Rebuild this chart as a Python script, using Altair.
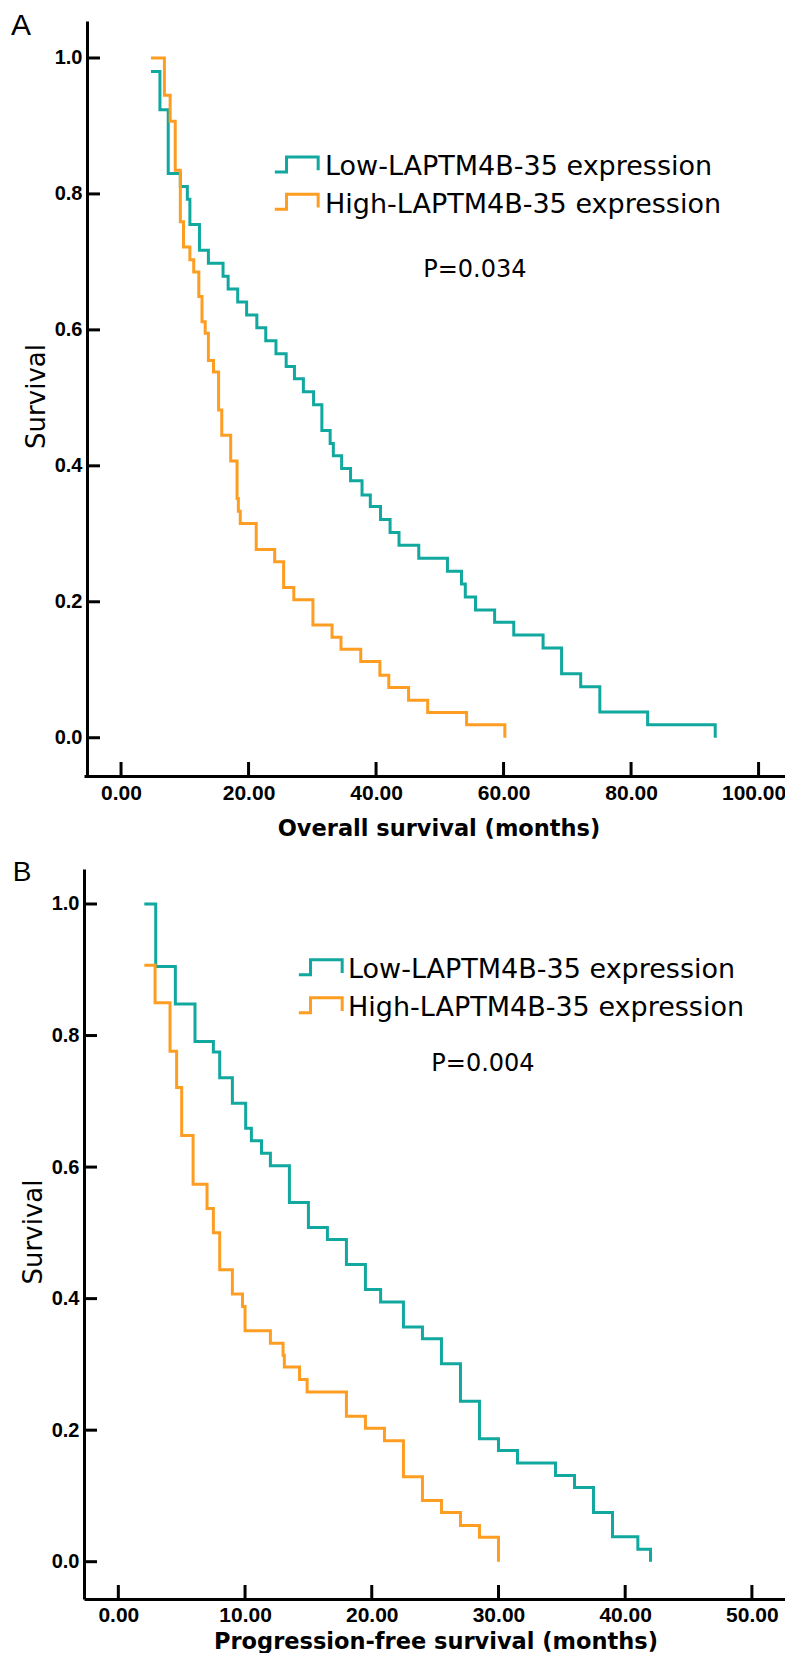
import altair as alt
import pandas as pd

GROUPS = ["Low-LAPTM4B-35 expression", "High-LAPTM4B-35 expression"]
COLORS = ["#10a89f", "#fd9d22"]

# Panel A: overall survival (months)
A_LOW_T = [4.7, 6.1, 7.4, 9.3, 10.4, 10.8, 12.3, 13.7, 16.0, 16.8, 18.3, 19.7, 21.3, 22.7,
           24.3, 25.9, 27.2, 28.6, 30.2, 31.5, 32.8, 33.3, 34.6, 36.0, 37.8, 39.1, 40.7,
           42.2, 43.6, 46.7, 51.2, 53.4, 54.0, 55.6, 58.6, 61.6, 66.2, 69.1, 72.1, 75.1,
           82.6, 93.2]
A_LOW_S = [0.980, 0.924, 0.830, 0.811, 0.792, 0.755, 0.717, 0.698, 0.679, 0.660, 0.641,
           0.622, 0.603, 0.584, 0.565, 0.546, 0.528, 0.509, 0.490, 0.452, 0.433, 0.415,
           0.396, 0.378, 0.357, 0.340, 0.321, 0.302, 0.283, 0.264, 0.245, 0.226, 0.207,
           0.188, 0.170, 0.151, 0.132, 0.094, 0.075, 0.038, 0.019, 0.0]
A_HIGH_T = [4.7, 6.8, 7.7, 8.5, 9.3, 9.8, 10.8, 11.4, 12.2, 12.7, 13.2, 13.7, 14.5, 15.3,
            15.8, 17.2, 18.2, 18.4, 18.7, 21.2, 24.1, 25.5, 27.1, 30.1, 33.1, 34.5, 37.6,
            40.6, 42.0, 45.1, 48.1, 54.2, 60.2]
A_HIGH_S = [1.0, 0.945, 0.907, 0.835, 0.759, 0.722, 0.703, 0.685, 0.649, 0.612, 0.595,
            0.555, 0.538, 0.482, 0.445, 0.407, 0.352, 0.333, 0.315, 0.277, 0.259, 0.221,
            0.203, 0.166, 0.148, 0.130, 0.112, 0.092, 0.074, 0.055, 0.037, 0.019, 0.0]

# Panel B: progression-free survival (months)
B_LOW_T = [2.05, 2.95, 4.5, 6.05, 7.5, 8.0, 9.0, 10.05, 10.5, 11.3, 12.0, 13.5, 15.0, 16.5,
           18.0, 19.5, 20.7, 22.5, 24.0, 25.5, 27.0, 28.5, 30.0, 31.5, 34.5, 36.0, 37.5,
           39.0, 41.0, 42.0]
B_LOW_S = [1.0, 0.905, 0.848, 0.791, 0.775, 0.736, 0.697, 0.659, 0.640, 0.621, 0.602,
           0.546, 0.508, 0.490, 0.452, 0.414, 0.395, 0.357, 0.339, 0.301, 0.244, 0.187,
           0.169, 0.150, 0.131, 0.113, 0.075, 0.038, 0.019, 0.0]
B_HIGH_T = [2.05, 2.9, 4.08, 4.6, 5.0, 5.9, 7.0, 7.5, 8.0, 9.0, 9.8, 10.0, 12.0, 13.0, 13.1,
            14.3, 14.9, 18.0, 19.5, 21.0, 22.5, 24.0, 25.5, 27.0, 28.5, 30.0]
B_HIGH_S = [0.907, 0.850, 0.776, 0.721, 0.648, 0.574, 0.537, 0.500, 0.444, 0.407, 0.388,
            0.351, 0.332, 0.314, 0.296, 0.277, 0.258, 0.221, 0.203, 0.184, 0.129, 0.093,
            0.075, 0.055, 0.037, 0.0]

A_XTICKS = [0, 20, 40, 60, 80, 100]
B_XTICKS = [0, 10, 20, 30, 40, 50]
YTICKS = [0.0, 0.2, 0.4, 0.6, 0.8, 1.0]

A_PVALUE = "P=0.034"
B_PVALUE = "P=0.004"
A_P_POS = (47.4, 0.678)
B_P_POS = (24.7, 0.7465)

SYMBOL = "M-2.89,0.63L-1.33,0.63L-1.33,-1.37L2.89,-1.37L2.89,0.4"


def km_frame(low_t, low_s, high_t, high_s):
    rows = []
    for t, s in zip(low_t, low_s):
        rows.append({"t": t, "s": s, "group": GROUPS[0]})
    for t, s in zip(high_t, high_s):
        rows.append({"t": t, "s": s, "group": GROUPS[1]})
    return pd.DataFrame(rows)


def panel(letter, df, xdom, ydom, xticks, xtitle, w, h, yoff, ptext, ppos,
          legx, legy, laboff, rowpad, lx, ly, lsize, lpad_x, tpad_x, tpad_y,
          last_shift, ytitle_y):
    xs = alt.Scale(domain=xdom, nice=False, zero=False)
    ys = alt.Scale(domain=ydom, nice=False, zero=False)
    xaxis = alt.Axis(values=xticks, format=".2f", title=xtitle,
                     titleFont="DejaVu Sans", titleFontSize=22.5,
                     titleFontWeight="bold", titlePadding=tpad_x,
                     labelPadding=lpad_x, labelFontSize=21,
                     labelFont="Liberation Sans", labelFontWeight="bold",
                     labelColor="black", titleColor="black",
                     labelOffset={"condition": {"test": f"datum.value == {xticks[-1]}",
                                                "value": last_shift}, "value": 0},
                     domainColor="black", domainWidth=3, ticks=False, grid=False)
    yaxis = alt.Axis(values=YTICKS, format=".1f", title="Survival",
                     titleFont="DejaVu Sans", titleFontSize=26,
                     titleFontWeight="normal", titlePadding=tpad_y,
                     titleY=ytitle_y,
                     labelPadding=5, labelFontSize=20,
                     labelFont="Liberation Sans", labelFontWeight="bold",
                     labelColor="black", titleColor="black",
                     domainColor="black", domainWidth=3, ticks=False, grid=False,
                     offset=yoff)
    X = alt.X("t:Q", scale=xs, axis=xaxis)
    Y = alt.Y("s:Q", scale=ys, axis=yaxis)
    curves = alt.Chart(df).mark_line(interpolate="step-after", strokeWidth=3).encode(
        x=X, y=Y,
        color=alt.Color("group:N", scale=alt.Scale(domain=GROUPS, range=COLORS),
                        legend=alt.Legend(orient="none", legendX=legx, legendY=legy,
                                          title=None, symbolType=SYMBOL, symbolSize=225,
                                          symbolStrokeWidth=3,
                                          symbolFillColor="transparent",
                                          labelFont="DejaVu Sans", labelFontSize=27,
                                          labelColor="black", labelOffset=laboff,
                                          rowPadding=rowpad, labelLimit=1000,
                                          padding=0)),
    )
    xt = alt.Chart(pd.DataFrame({"t": xticks})).mark_rule(
        color="black", strokeWidth=3).encode(
        x=X, y=alt.value(h), y2=alt.value(h - 14))
    yt = alt.Chart(pd.DataFrame({"s": YTICKS})).mark_rule(
        color="black", strokeWidth=3).encode(
        y=Y, x=alt.value(-yoff), x2=alt.value(-yoff + 13))
    ptxt = alt.Chart(pd.DataFrame({"t": [ppos[0]], "s": [ppos[1]], "label": [ptext]})).mark_text(
        align="left", baseline="alphabetic", font="DejaVu Sans", fontSize=24,
        color="black").encode(x=X, y=Y, text="label:N")
    lt = alt.Chart(pd.DataFrame({"label": [letter]})).mark_text(
        align="left", baseline="alphabetic", font="Liberation Sans", fontSize=lsize,
        color="black").encode(text="label:N", x=alt.value(lx), y=alt.value(ly))
    return alt.layer(curves, xt, yt, ptxt, lt).properties(width=w, height=h)


dfA = km_frame(A_LOW_T, A_LOW_S, A_HIGH_T, A_HIGH_S)
dfB = km_frame(B_LOW_T, B_LOW_S, B_HIGH_T, B_HIGH_S)

pA = panel("A", dfA, [-5.81, 105.4], [-0.0563, 1.0544], A_XTICKS,
           "Overall survival (months)", 709, 755, -3, A_PVALUE, A_P_POS,
           199, 132.8, 15, 7.3, -73, 14.3, 30, 6, 14, 5, -5, 375)
pB = panel("B", dfB, [-2.71, 52.77], [-0.0567, 1.0532], B_XTICKS,
           "Progression-free survival (months)", 703, 730, 0, B_PVALUE, B_P_POS,
           223, 87.5, 14, 8, -71.3, 11.7, 28, 5.5, 4.7, 5, 0, 362.5)

chart = alt.vconcat(pA, pB, spacing=18).resolve_scale(
    color="independent").resolve_legend(
    color="independent").properties(
    padding={"left": 3, "top": 3, "right": -8, "bottom": 0}).configure_view(
    stroke=None)

chart.save("out.html", embed_options={"renderer": "svg", "actions": False})
